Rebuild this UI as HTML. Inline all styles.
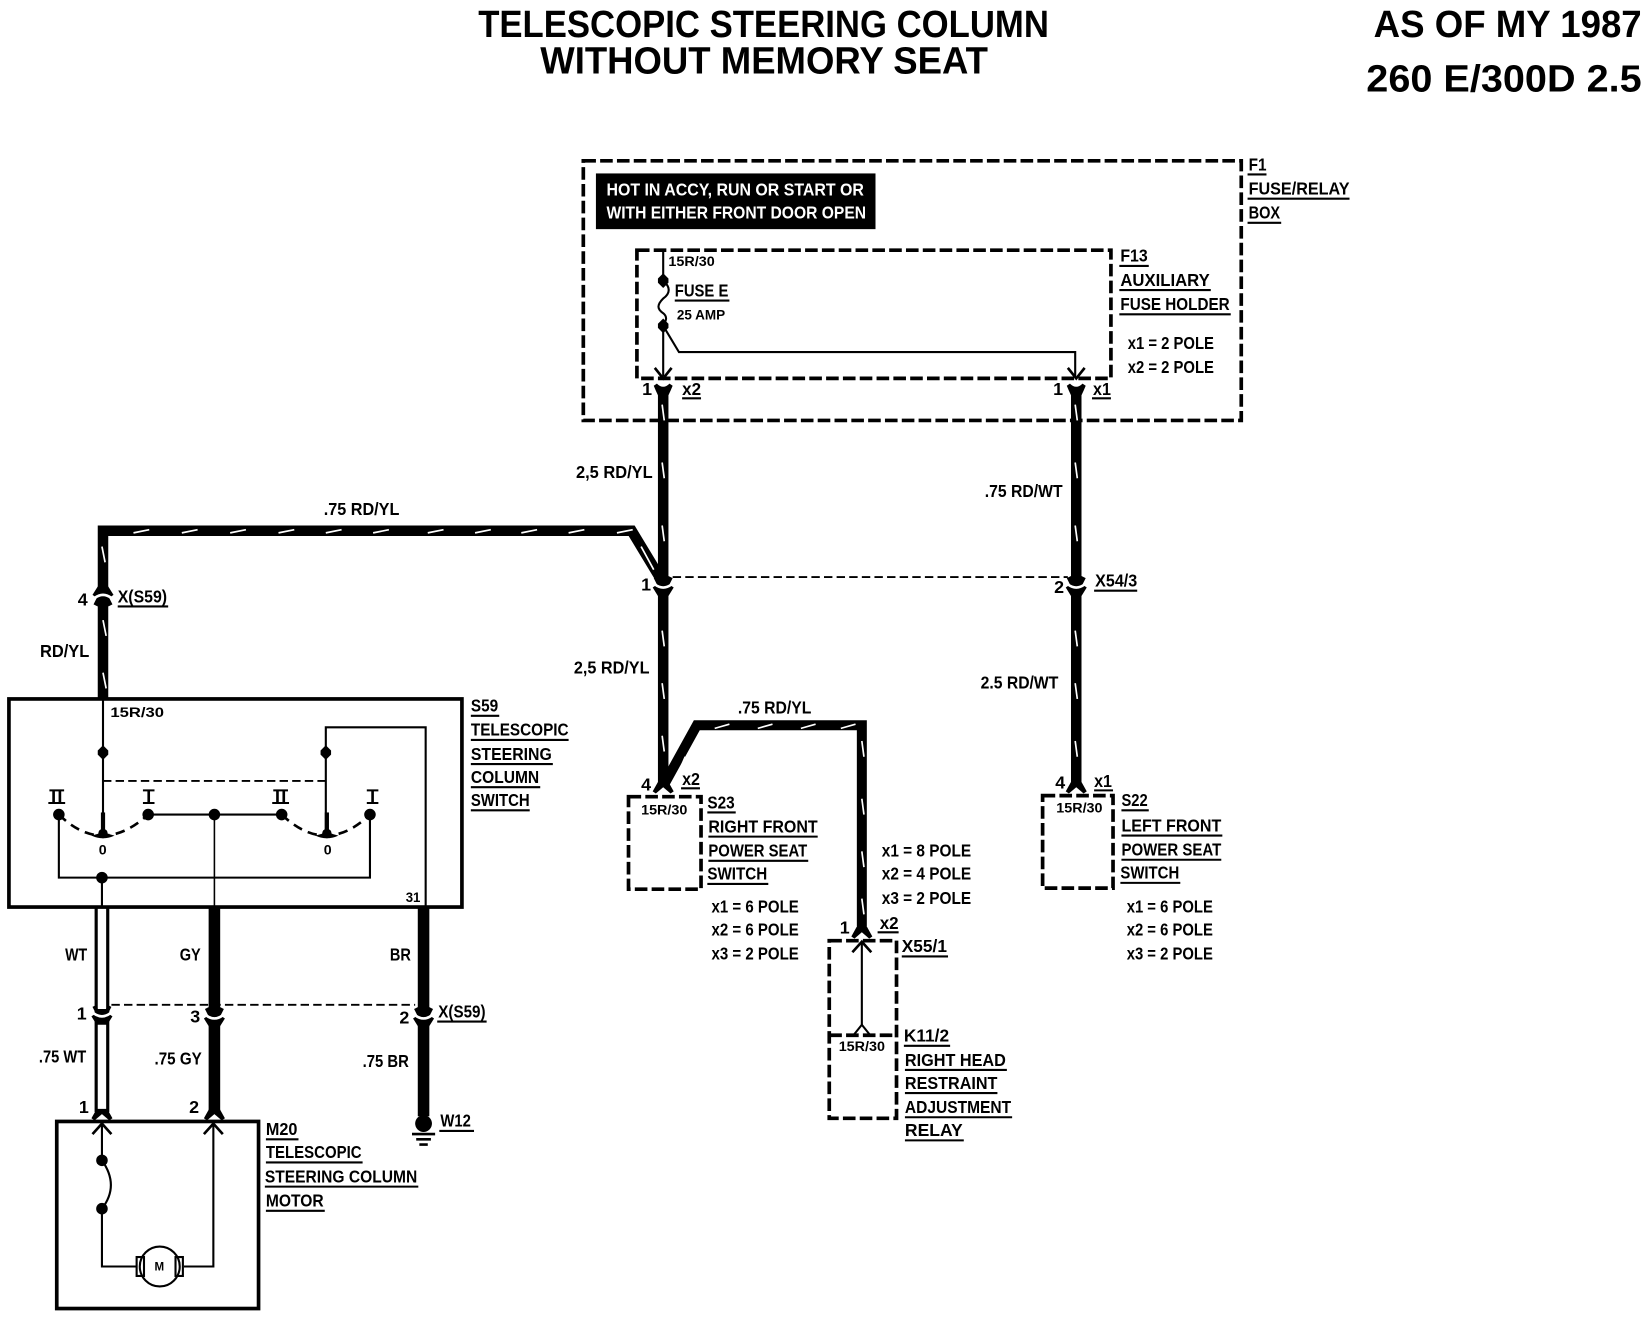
<!DOCTYPE html>
<html><head><meta charset="utf-8"><style>
html,body{margin:0;padding:0;background:#fff}
svg{display:block}
text{font-family:"Liberation Sans",sans-serif;font-weight:bold;fill:#000}
.t{font-size:36px}
.l{font-size:17px}
.s{font-size:13.5px}
.w{fill:#fff;font-size:16.5px}
</style></head><body>
<svg xmlns="http://www.w3.org/2000/svg" width="1648" height="1328" viewBox="0 0 1568 1263.5">
<defs>
<g id="cv"><path d="M-9,-6 L-5,-8 L-4,-4 L4,-4 L5,-8 L9,-6 L5,2 Q0,4 -5,2Z" fill="#000"/><path d="M-10,3 L-7,1 Q0,7 7,1 L10,3 L5,11 L-5,11Z" fill="#000"/><path d="M-8,0 Q0,6 8,0" fill="none" stroke="#fff" stroke-width="2.5"/></g>
<path id="fl" d="M-10,6 L-5,-3 L5,-3 L10,6 L7,8 L0,2 L-7,8Z" fill="#000"/>
<path id="yy" d="M-9,-4 Q-7,1 -5,5 L5,5 Q7,1 9,-4 L6,-6 Q0,0 -6,-6Z" fill="#000"/>
<path id="dn" d="M-8,-10 L0,0 L8,-10" fill="none" stroke="#000" stroke-width="2.5"/>
<path id="up" d="M-9,10 L0,0 L9,10" fill="none" stroke="#000" stroke-width="2.5"/>
<path id="dm" d="M0,-7 L5,-2 L5,2 L0,7 L-5,2 L-5,-2Z" fill="#000"/>
</defs>
<rect width="1568" height="1264" fill="#fff"/>

<!-- titles -->
<text class="t" x="455" y="35" textLength="543" lengthAdjust="spacingAndGlyphs">TELESCOPIC STEERING COLUMN</text>
<text class="t" x="514" y="70" textLength="426" lengthAdjust="spacingAndGlyphs">WITHOUT MEMORY SEAT</text>
<text class="t" x="1307" y="35" textLength="255" lengthAdjust="spacingAndGlyphs">AS OF MY 1987</text>
<text class="t" x="1300" y="87" textLength="262" lengthAdjust="spacingAndGlyphs">260 E/300D 2.5</text>

<!-- dashed boxes -->
<g fill="none" stroke="#000" stroke-width="3.5" stroke-dasharray="12 4">
<rect x="555" y="153" width="626" height="247"/>
<rect x="606" y="238" width="451" height="122"/>
<rect x="598" y="758" width="69" height="88"/>
<rect x="992" y="757" width="67" height="88"/>
<rect x="789" y="895" width="64" height="169"/>
<path d="M789,985 H853"/>
</g>
<rect x="567" y="165" width="266" height="53" fill="#000"/>
<text class="w" x="577" y="186" textLength="245" lengthAdjust="spacingAndGlyphs">HOT IN ACCY, RUN OR START OR</text>
<text class="w" x="577" y="208" textLength="247" lengthAdjust="spacingAndGlyphs">WITH EITHER FRONT DOOR OPEN</text>

<!-- thick wires -->
<g fill="none" stroke="#000" stroke-linejoin="miter" stroke-linecap="butt">
<path d="M631,372 V746" stroke-width="10"/>
<path d="M1024,372 V746" stroke-width="10"/>
<path d="M98,665 V505 H601 L630,553" stroke-width="10"/>
<path d="M631,748 L663,690 H820 V885" stroke-width="9.5"/>
<path d="M204,863 V1058" stroke-width="11"/>
<path d="M403,863 V1062" stroke-width="11"/>
<path d="M91.5,863 V1058 M102.5,863 V1058" stroke-width="3"/>
</g>

<!-- white ticks in wires -->
<g fill="none" stroke="#fff" stroke-width="1.6">
<path d="M127,507 l15,-3 M173,507 l15,-3 M219,507 l15,-3 M265,507 l15,-3 M310,507 l15,-3 M355,507 l15,-3 M407,507 l15,-3 M452,507 l15,-3 M496,507 l15,-3 M541,507 l15,-3 M587,507 l15,-3"/>
<path d="M680,693 l14,-4 M721,693 l14,-4 M762,693 l14,-4 M800,693 l14,-4"/>
<path d="M97,520 l3,15 M98,590 l3,15 M98,640 l3,15"/>
<path d="M630,385 l2,15 M630,440 l2,15 M630,500 l2,15 M630,600 l2,15 M630,650 l2,15 M630,700 l2,15"/>
<path d="M1023,385 l2,15 M1023,440 l2,15 M1023,500 l2,15 M1023,600 l2,15 M1023,650 l2,15 M1023,705 l2,15"/>
<path d="M820,705 l2,15 M820,760 l2,15 M820,810 l2,15 M820,855 l2,15"/>
<path d="M610,520 l12,22 M652,720 l-6,14"/>
</g>

<!-- connectors -->
<use href="#yy" x="631" y="371"/><use href="#yy" x="1024" y="371"/>
<use href="#dn" x="631" y="360"/><use href="#dn" x="1024" y="360"/>
<use href="#cv" x="631" y="556"/><use href="#cv" x="1024" y="556"/>
<use href="#cv" transform="translate(98,569) scale(1,-1)"/>
<use href="#cv" x="97" y="964"/><use href="#cv" x="204" y="966"/><use href="#cv" x="403" y="966"/>
<use href="#fl" x="631" y="747"/><use href="#fl" x="1024" y="747"/><use href="#fl" x="820" y="885"/>
<use href="#fl" x="97" y="1058"/><use href="#fl" x="204" y="1058"/>
<use href="#up" x="820" y="896"/>
<path d="M812,985 L820,975 L828,985" fill="none" stroke="#000" stroke-width="2"/>
<path d="M820,896 V975" stroke="#000" stroke-width="2" fill="none"/>

<!-- dashed links -->
<g fill="none" stroke="#000" stroke-width="1.8" stroke-dasharray="8 4">
<path d="M640,549 H1016"/>
<path d="M106,956 H395"/>
<path d="M98,743 H310"/>
</g>

<!-- fuse box inner -->
<g fill="none" stroke="#000" stroke-width="2">
<path d="M631,238 V267 C638,273 638,279 631,284 C625,290 625,294 631,298 C636,302 633,306 631,310 V358"/>
<path d="M631,310 L646,335 H1023 V358"/>
</g>
<use href="#dm" x="631" y="267"/><use href="#dm" x="631" y="310"/>

<!-- S59 -->
<rect x="8.5" y="665" width="431" height="198" fill="none" stroke="#000" stroke-width="3.5"/>
<g fill="none" stroke="#000" stroke-width="2">
<path d="M98,665 V793"/>
<path d="M405,863 V692 H310 V793"/>
<path d="M141,775 H268"/>
<path d="M204,775 V863" stroke-width="1.5"/>
<path d="M56,775 V835 H352 V775"/>
<path d="M97,835 V863"/>
</g>
<path d="M56,775 Q97,815 141,775 M268,775 Q310,815 352,775" fill="none" stroke="#000" stroke-width="2.5" stroke-dasharray="9 6"/>
<g fill="#000">
<circle cx="56" cy="775" r="5.5"/><circle cx="141" cy="775" r="5.5"/><circle cx="204" cy="775" r="5.5"/><circle cx="268" cy="775" r="5.5"/><circle cx="352" cy="775" r="5.5"/><circle cx="97" cy="835" r="5.5"/>
<circle cx="98" cy="793" r="4.5"/><circle cx="311" cy="793" r="4.5"/>
<path d="M87,795 Q98,800 109,795 L98,792Z M300,795 Q311,800 322,795 L311,792Z"/>
<rect x="96" y="773" width="4" height="20"/><rect x="309" y="773" width="4" height="20"/>
</g>
<use href="#dm" x="98" y="716"/><use href="#dm" x="310" y="716"/>
<g fill="none" stroke="#000">
<path stroke-width="2" d="M47,752 H61 M46,764 H62 M260,752 H274 M259,764 H275 M136,752 H147 M136,764 H147 M349,752 H360 M349,764 H360"/>
<path stroke-width="2.5" d="M51,752 V764 M57,752 V764 M264,752 V764 M270,752 V764 M141.5,752 V764 M354.5,752 V764"/>
</g>
<text class="s" x="94" y="813">0</text><text class="s" x="308" y="813">0</text>
<text class="s" x="105" y="682" textLength="51" lengthAdjust="spacingAndGlyphs">15R/30</text>
<text class="s" x="386" y="858" textLength="14" lengthAdjust="spacingAndGlyphs">31</text>

<!-- M20 -->
<rect x="54" y="1067" width="192" height="178" fill="none" stroke="#000" stroke-width="3.5"/>
<use href="#up" x="97" y="1069"/><use href="#up" x="203" y="1069"/>
<g fill="none" stroke="#000" stroke-width="2">
<path d="M97,1069 V1104 Q114,1128 97,1150 V1205 H130"/>
<path d="M203,1069 V1205 H175"/>
<circle cx="152" cy="1205" r="19"/>
<rect x="130" y="1196" width="7" height="18"/><rect x="167" y="1196" width="7" height="18"/>
</g>
<circle cx="97" cy="1104" r="5.5"/><circle cx="97" cy="1150" r="5.5"/>
<text x="147" y="1209" style="font-size:11px">M</text>

<!-- ground -->
<circle cx="403" cy="1069" r="8"/>
<path d="M392,1079 H414 M396,1084 H410 M399,1089 H407" stroke="#000" stroke-width="2.5"/>

<!-- underlines -->
<path stroke="#000" stroke-width="2" fill="none" d="
M1187,166 H1205 M1187,189 H1284 M1187,212 H1219
M1065,253 H1093 M1065,276 H1152 M1065,299 H1171
M642,286 H694
M649,379 H667 M1039,379 H1057
M112,577 H160 M1041,562 H1082
M448,681 H475 M448,704 H541 M448,727 H526 M448,749 H514 M448,771 H504
M648,750 H666 M1041,752 H1059
M673,773 H700 M674,796 H778 M674,819 H769 M673,841 H731
M1067,771 H1093 M1067,795 H1163 M1067,818 H1162 M1066,840 H1123
M835,887 H855 M858,910 H902
M860,995 H904 M861,1018 H958 M861,1040 H949 M861,1063 H963 M861,1085 H917
M416,972 H463 M418,1076 H451
M253,1084 H284 M253,1106 H345 M252,1129 H398 M253,1152 H309"/>

<!-- labels -->
<g class="l">
<text class="l" x="1188" y="162" textLength="17" lengthAdjust="spacingAndGlyphs">F1</text>
<text class="l" x="1188" y="185" textLength="96" lengthAdjust="spacingAndGlyphs">FUSE/RELAY</text>
<text class="l" x="1188" y="208" textLength="30" lengthAdjust="spacingAndGlyphs">BOX</text>
<text class="l" x="1066" y="249" textLength="26" lengthAdjust="spacingAndGlyphs">F13</text>
<text class="l" x="1066" y="272" textLength="85" lengthAdjust="spacingAndGlyphs">AUXILIARY</text>
<text class="l" x="1066" y="295" textLength="104" lengthAdjust="spacingAndGlyphs">FUSE HOLDER</text>
<text class="l" x="1073" y="332" textLength="82" lengthAdjust="spacingAndGlyphs">x1 = 2 POLE</text>
<text class="l" x="1073" y="355" textLength="82" lengthAdjust="spacingAndGlyphs">x2 = 2 POLE</text>
<text class="s" x="636" y="253" textLength="44" lengthAdjust="spacingAndGlyphs">15R/30</text>
<text class="l" x="642" y="282" textLength="51" lengthAdjust="spacingAndGlyphs">FUSE E</text>
<text class="s" x="644" y="304" textLength="46" lengthAdjust="spacingAndGlyphs">25 AMP</text>
<text class="l" x="611" y="376">1</text><text class="l" x="649" y="376" textLength="18" lengthAdjust="spacingAndGlyphs">x2</text>
<text class="l" x="1002" y="376">1</text><text class="l" x="1040" y="376" textLength="17" lengthAdjust="spacingAndGlyphs">x1</text>
<text class="l" x="548" y="455" textLength="73" lengthAdjust="spacingAndGlyphs">2,5 RD/YL</text>
<text class="l" x="937" y="473" textLength="74" lengthAdjust="spacingAndGlyphs">.75 RD/WT</text>
<text class="l" x="308" y="490" textLength="72" lengthAdjust="spacingAndGlyphs">.75 RD/YL</text>
<text class="l" x="610" y="562">1</text><text class="l" x="1003" y="564">2</text>
<text class="l" x="1042" y="558" textLength="40" lengthAdjust="spacingAndGlyphs">X54/3</text>
<text class="l" x="546" y="641" textLength="72" lengthAdjust="spacingAndGlyphs">2,5 RD/YL</text>
<text class="l" x="933" y="655" textLength="74" lengthAdjust="spacingAndGlyphs">2.5 RD/WT</text>
<text class="l" x="702" y="679" textLength="70" lengthAdjust="spacingAndGlyphs">.75 RD/YL</text>
<text class="l" x="610" y="752">4</text><text class="l" x="649" y="747" textLength="17" lengthAdjust="spacingAndGlyphs">x2</text>
<text class="s" x="610" y="775" textLength="44" lengthAdjust="spacingAndGlyphs">15R/30</text>
<text class="l" x="673" y="769" textLength="26" lengthAdjust="spacingAndGlyphs">S23</text>
<text class="l" x="674" y="792" textLength="104" lengthAdjust="spacingAndGlyphs">RIGHT FRONT</text>
<text class="l" x="674" y="815" textLength="94" lengthAdjust="spacingAndGlyphs">POWER SEAT</text>
<text class="l" x="673" y="837" textLength="57" lengthAdjust="spacingAndGlyphs">SWITCH</text>
<text class="l" x="677" y="868" textLength="83" lengthAdjust="spacingAndGlyphs">x1 = 6 POLE</text>
<text class="l" x="677" y="890" textLength="83" lengthAdjust="spacingAndGlyphs">x2 = 6 POLE</text>
<text class="l" x="677" y="913" textLength="83" lengthAdjust="spacingAndGlyphs">x3 = 2 POLE</text>
<text class="l" x="839" y="815" textLength="85" lengthAdjust="spacingAndGlyphs">x1 = 8 POLE</text>
<text class="l" x="839" y="837" textLength="85" lengthAdjust="spacingAndGlyphs">x2 = 4 POLE</text>
<text class="l" x="839" y="860" textLength="85" lengthAdjust="spacingAndGlyphs">x3 = 2 POLE</text>
<text class="l" x="799" y="888">1</text><text class="l" x="837" y="884" textLength="18" lengthAdjust="spacingAndGlyphs">x2</text>
<text class="l" x="858" y="906" textLength="43" lengthAdjust="spacingAndGlyphs">X55/1</text>
<text class="s" x="798" y="1000" textLength="44" lengthAdjust="spacingAndGlyphs">15R/30</text>
<text class="l" x="860" y="991" textLength="43" lengthAdjust="spacingAndGlyphs">K11/2</text>
<text class="l" x="861" y="1014" textLength="96" lengthAdjust="spacingAndGlyphs">RIGHT HEAD</text>
<text class="l" x="861" y="1036" textLength="88" lengthAdjust="spacingAndGlyphs">RESTRAINT</text>
<text class="l" x="861" y="1059" textLength="101" lengthAdjust="spacingAndGlyphs">ADJUSTMENT</text>
<text class="l" x="861" y="1081" textLength="55" lengthAdjust="spacingAndGlyphs">RELAY</text>
<text class="l" x="1004" y="750">4</text><text class="l" x="1041" y="749" textLength="17" lengthAdjust="spacingAndGlyphs">x1</text>
<text class="s" x="1005" y="773" textLength="44" lengthAdjust="spacingAndGlyphs">15R/30</text>
<text class="l" x="1067" y="767" textLength="25" lengthAdjust="spacingAndGlyphs">S22</text>
<text class="l" x="1067" y="791" textLength="95" lengthAdjust="spacingAndGlyphs">LEFT FRONT</text>
<text class="l" x="1067" y="814" textLength="95" lengthAdjust="spacingAndGlyphs">POWER SEAT</text>
<text class="l" x="1066" y="836" textLength="56" lengthAdjust="spacingAndGlyphs">SWITCH</text>
<text class="l" x="1072" y="868" textLength="82" lengthAdjust="spacingAndGlyphs">x1 = 6 POLE</text>
<text class="l" x="1072" y="890" textLength="82" lengthAdjust="spacingAndGlyphs">x2 = 6 POLE</text>
<text class="l" x="1072" y="913" textLength="82" lengthAdjust="spacingAndGlyphs">x3 = 2 POLE</text>
<text class="l" x="74" y="576">4</text>
<text class="l" x="112" y="573" textLength="47" lengthAdjust="spacingAndGlyphs">X(S59)</text>
<text class="l" x="38" y="625" textLength="47" lengthAdjust="spacingAndGlyphs">RD/YL</text>
<text class="l" x="448" y="677" textLength="26" lengthAdjust="spacingAndGlyphs">S59</text>
<text class="l" x="448" y="700" textLength="93" lengthAdjust="spacingAndGlyphs">TELESCOPIC</text>
<text class="l" x="448" y="723" textLength="77" lengthAdjust="spacingAndGlyphs">STEERING</text>
<text class="l" x="448" y="745" textLength="65" lengthAdjust="spacingAndGlyphs">COLUMN</text>
<text class="l" x="448" y="767" textLength="56" lengthAdjust="spacingAndGlyphs">SWITCH</text>
<text class="l" x="62" y="914" textLength="21" lengthAdjust="spacingAndGlyphs">WT</text>
<text class="l" x="171" y="914" textLength="20" lengthAdjust="spacingAndGlyphs">GY</text>
<text class="l" x="371" y="914" textLength="20" lengthAdjust="spacingAndGlyphs">BR</text>
<text class="l" x="73" y="970">1</text><text class="l" x="181" y="973">3</text><text class="l" x="380" y="974">2</text>
<text class="l" x="417" y="968" textLength="45" lengthAdjust="spacingAndGlyphs">X(S59)</text>
<text class="l" x="37" y="1011" textLength="45" lengthAdjust="spacingAndGlyphs">.75 WT</text>
<text class="l" x="147" y="1013" textLength="45" lengthAdjust="spacingAndGlyphs">.75 GY</text>
<text class="l" x="345" y="1015" textLength="44" lengthAdjust="spacingAndGlyphs">.75 BR</text>
<text class="l" x="75" y="1059">1</text><text class="l" x="180" y="1059">2</text>
<text class="l" x="419" y="1072" textLength="29" lengthAdjust="spacingAndGlyphs">W12</text>
<text class="l" x="253" y="1080" textLength="30" lengthAdjust="spacingAndGlyphs">M20</text>
<text class="l" x="253" y="1102" textLength="91" lengthAdjust="spacingAndGlyphs">TELESCOPIC</text>
<text class="l" x="252" y="1125" textLength="145" lengthAdjust="spacingAndGlyphs">STEERING COLUMN</text>
<text class="l" x="253" y="1148" textLength="55" lengthAdjust="spacingAndGlyphs">MOTOR</text>
</g>
</svg>
</body></html>
